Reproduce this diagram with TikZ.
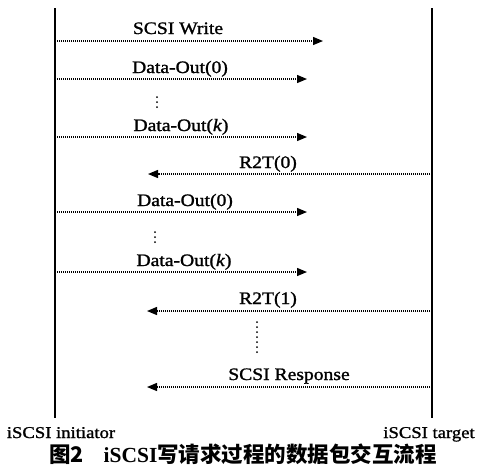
\documentclass[tikz,border=0pt]{standalone}
\usepackage{fontspec}
\setmainfont{Liberation Serif}
\newfontfamily\labfont[FakeBold=1.2]{Liberation Serif}
\newfontfamily\cjk{Noto Sans CJK SC}
\usetikzlibrary{arrows.meta}
\newcommand\msglab[1]{\scalebox{1.12}[1]{#1}}
\newcommand\bottomlab[1]{\scalebox{1.13}[1]{#1}}
\begin{document}
\begin{tikzpicture}[x=1pt,y=-1pt,
  lifeline/.style={line width=1.8pt},
  msg/.style={line width=1.3pt, dash pattern=on 1pt off 1pt, -{Triangle[length=10pt,width=8pt]}},
  mlabel/.style={inner sep=0pt, anchor=base, font=\labfont\fontsize{17.5}{20}\selectfont},
  blabel/.style={inner sep=0pt, anchor=base, font=\labfont\fontsize{16.5}{19}\selectfont},
  vdotline/.style={line width=2pt, dash pattern=on 0pt off 5pt, line cap=round}]
\useasboundingbox (0,0) rectangle (479,467);
% lifelines
\coordinate (Ltop) at (55,8);
\coordinate (Lbot) at (55,418);
\coordinate (Rtop) at (432,8);
\coordinate (Rbot) at (432,418);
\draw[lifeline] (Ltop) -- (Lbot);
\draw[lifeline] (Rtop) -- (Rbot);
% message anchors
\coordinate (m1s) at (55,41);  \coordinate (m1e) at (323,41);
\coordinate (m2s) at (55,79);  \coordinate (m2e) at (307,79);
\coordinate (m3s) at (55,137); \coordinate (m3e) at (307,137);
\coordinate (m4s) at (432,174); \coordinate (m4e) at (148,174);
\coordinate (m5s) at (55,212); \coordinate (m5e) at (307,212);
\coordinate (m6s) at (55,272); \coordinate (m6e) at (307,272);
\coordinate (m7s) at (432,311); \coordinate (m7e) at (147,311);
\coordinate (m8s) at (432,387); \coordinate (m8e) at (147,387);
\draw[msg] (m1s) -- (m1e);
\draw[msg] (m2s) -- (m2e);
\draw[msg] (m3s) -- (m3e);
\draw[msg] (m4s) -- (m4e);
\draw[msg] (m5s) -- (m5e);
\draw[msg] (m6s) -- (m6e);
\draw[msg] (m7s) -- (m7e);
\draw[msg] (m8s) -- (m8e);
% labels
\node[mlabel] (l1) at (178,34) {\msglab{SCSI Write}};
\node[mlabel] (l2) at (180,73) {\msglab{Data-Out(0)}};
\node[mlabel] (l3) at (181,131) {\msglab{Data-Out(\textit{k})}};
\node[mlabel] (l4) at (268,168) {\msglab{R2T(0)}};
\node[mlabel] (l5) at (185,206) {\msglab{Data-Out(0)}};
\node[mlabel] (l6) at (184,266) {\msglab{Data-Out(\textit{k})}};
\node[mlabel] (l7) at (268,304) {\msglab{R2T(1)}};
\node[mlabel] (l8) at (289,380) {\msglab{SCSI Response}};
% vertical dots
\coordinate (d1a) at (157,97);  \coordinate (d1b) at (157,108);
\coordinate (d2a) at (155,232); \coordinate (d2b) at (155,243);
\coordinate (d3a) at (257,322); \coordinate (d3b) at (257,353);
\draw[vdotline] (d1a) -- (d1b);
\draw[vdotline] (d2a) -- (d2b);
\draw[vdotline] (d3a) -- (d3b);
% bottom labels
\node[blabel] (ini) at (61,438) {\bottomlab{iSCSI initiator}};
\node[blabel] (tgt) at (429,438) {\bottomlab{iSCSI target}};
% caption
\node[inner sep=0pt, anchor=base] (cap) at (243,462)
  {\fontsize{21.5}{24}\selectfont{\cjk\bfseries 图2}\hspace{20pt}{\bfseries iSCSI}{\cjk\bfseries 写请求过程的数据包交互流程}};
\end{tikzpicture}
\end{document}
